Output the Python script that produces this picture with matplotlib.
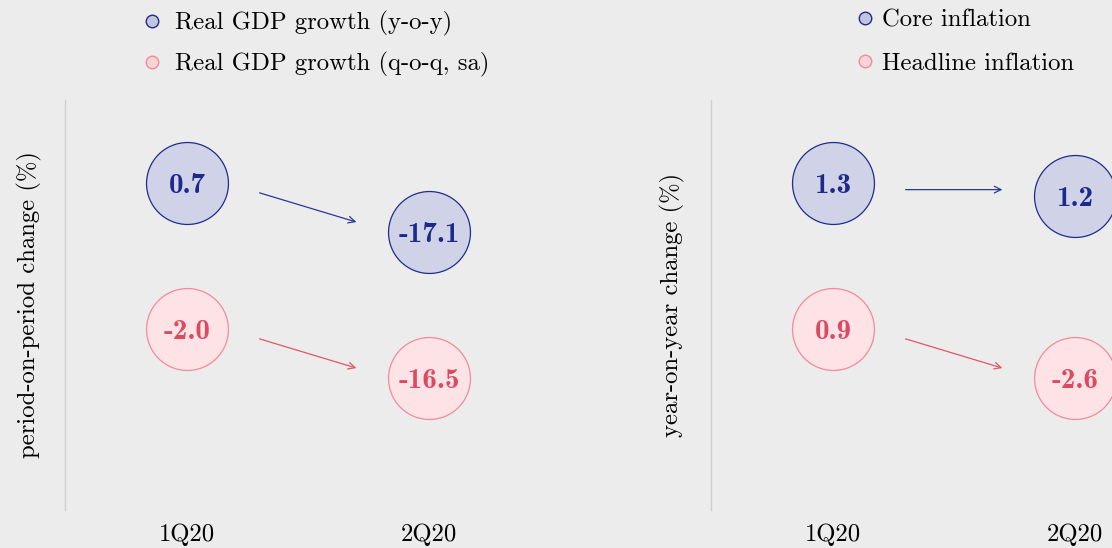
import numpy as np
import matplotlib
matplotlib.use("Agg")
import matplotlib.pyplot as plt
from matplotlib.lines import Line2D

# data
quarters = ["1Q20", "2Q20"]
gdp_yoy = [0.7, -17.1]
gdp_qoq = [-2.0, -16.5]
core_infl = [1.3, 1.2]
headline_infl = [0.9, -2.6]

bg = "#ececec"
blue_edge, blue_fill, blue_text = "#1f2d8a", "#d0d3e7", "#1c2a8c"
red_edge, red_fill, red_text = "#f58a98", "#fde3e6", "#dc4a62"
blue_arrow, red_arrow = "#2a3896", "#e0566c"

plt.rcParams["axes.formatter.use_mathtext"] = True


def levels(vals, base):
    # schematic vertical position: second bubble drifts with the change
    d = vals[1] - vals[0]
    return [base, base + 0.336 * np.tanh(2.8 * d)]


def draw_series(ax, vals, base, edge, fill, tcol, acol):
    ys = levels(vals, base)
    xs = np.arange(len(vals))
    ax.scatter(xs, ys, s=3480, facecolor=fill, edgecolor=edge,
               linewidth=0.9, zorder=2, clip_on=False)
    for x, y, v in zip(xs, ys, vals):
        ax.text(x, y, f"{v:.1f}", ha="center", va="center_baseline",
                fontfamily="cmb10", fontsize=21, color=tcol, zorder=3)
    d = vals[1] - vals[0]
    drop = 0.2 * np.sign(d) if abs(d) >= 0.5 else 0.0
    ym = (ys[0] + ys[1]) / 2
    ax.annotate("", xy=(0.7, ym + drop / 2), xytext=(0.3, ym - drop / 2),
                arrowprops=dict(arrowstyle="->", color=acol, lw=0.9,
                                mutation_scale=12, shrinkA=0, shrinkB=0))


def setup(ax, ylabel, pad):
    ax.set_facecolor(bg)
    ax.set_xlim(-0.504, 1.5)
    ax.set_ylim(-1.24, 1.568)
    for s in ["top", "right", "bottom"]:
        ax.spines[s].set_visible(False)
    ax.spines["left"].set_color("#cfcfcf")
    ax.spines["left"].set_linewidth(1.0)
    ax.set_yticks([])
    ax.set_xticks(range(len(quarters)))
    ax.set_xticklabels(quarters, fontfamily="cmr10", fontsize=17.8)
    ax.tick_params(axis="x", length=0, pad=10)
    ax.set_ylabel(ylabel, fontfamily="cmr10", fontsize=17.8, labelpad=pad)


fig = plt.figure(figsize=(11.12, 5.48), dpi=100, facecolor=bg)
ax1 = fig.add_axes([65 / 1112, 38 / 548, 485 / 1112, 410 / 548])
ax2 = fig.add_axes([711 / 1112, 38 / 548, 485 / 1112, 410 / 548])

setup(ax1, "period-on-period change (%)", 16.5)
setup(ax2, "year-on-year change (%)", 19)

draw_series(ax1, gdp_yoy, 1.0, blue_edge, blue_fill, blue_text, blue_arrow)
draw_series(ax1, gdp_qoq, 0.0, red_edge, red_fill, red_text, red_arrow)
draw_series(ax2, core_infl, 1.0, blue_edge, blue_fill, blue_text, blue_arrow)
draw_series(ax2, headline_infl, 0.0, red_edge, red_fill, red_text, red_arrow)


def handle(edge, fill):
    return Line2D([], [], marker="o", linestyle="", markersize=9,
                  markerfacecolor=fill, markeredgecolor=edge,
                  markeredgewidth=1.0)


fig.legend([handle(blue_edge, "#c2c5e0"), handle(red_edge, "#f8d4d9")],
           ["Real GDP growth (y-o-y)", "Real GDP growth (q-o-q, sa)"],
           loc="upper left", bbox_to_anchor=(139.6 / 1112, 1 - 11 / 548),
           frameon=False, prop={"family": "cmr10", "size": 17.8},
           handlelength=1.0, handletextpad=0.43, borderpad=0,
           borderaxespad=0, labelspacing=0.64)
fig.legend([handle(blue_edge, "#c2c5e0"), handle(red_edge, "#f8d4d9")],
           ["Core inflation", "Headline inflation"],
           loc="upper left", bbox_to_anchor=(852.6 / 1112, 1 - 9 / 548),
           frameon=False, prop={"family": "cmr10", "size": 17.8},
           handlelength=1.0, handletextpad=0.19, borderpad=0,
           borderaxespad=0, labelspacing=0.85)

fig.savefig("out.png", dpi=100, facecolor=bg)
